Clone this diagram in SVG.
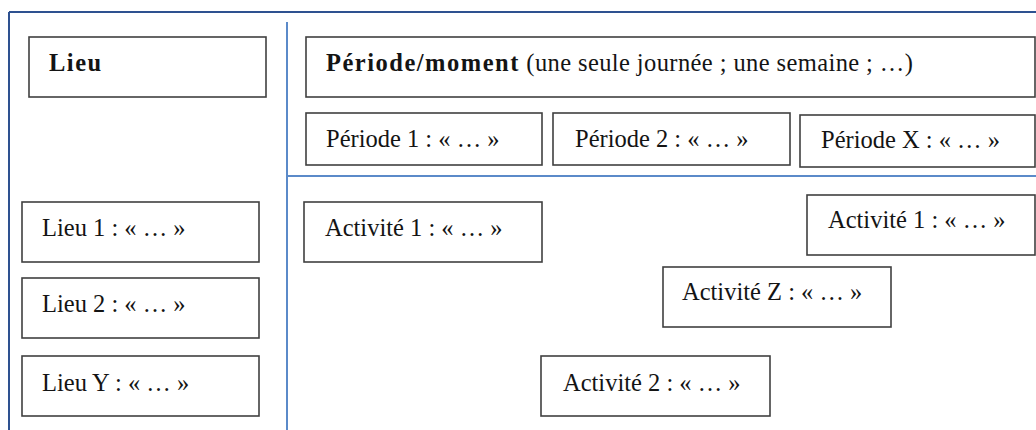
<svg xmlns="http://www.w3.org/2000/svg" width="1036" height="430" viewBox="0 0 1036 430">
<style>
.box{fill:#ffffff;stroke:#404040;stroke-width:1.6}
.t{font-family:"Liberation Serif","Times New Roman",serif;font-size:24.5px;fill:#141414}
.b{font-weight:bold;letter-spacing:1.5px}
.frame{stroke:#2E5190;stroke-width:2;fill:none}
.div{stroke:#5B8AC9;stroke-width:2;fill:none}
</style>
<rect width="1036" height="430" fill="#ffffff"/>
<g id="connectors">
<line class="frame" x1="9" y1="12" x2="1036" y2="12" stroke="#24416F"/>
<line class="frame" x1="9" y1="12" x2="9" y2="430"/>
<line class="div" x1="287" y1="22" x2="287" y2="430"/>
<line class="div" x1="287" y1="176" x2="1036" y2="176"/>
</g>
<g id="lieu"><rect class="box" x="29" y="37" width="237" height="60"/><text class="t b" x="49" y="71">Lieu</text></g>
<g id="periode-moment"><rect class="box" x="306" y="37" width="729" height="60" stroke-width="2"/><text class="t" x="326" y="71"><tspan class="b">Période/moment</tspan><tspan letter-spacing="0.4"> (une seule journée ; une semaine ; …)</tspan></text></g>
<g id="periode1"><rect class="box" x="306" y="113" width="236" height="52"/><text class="t" x="326" y="147">Période 1 : « … »</text></g>
<g id="periode2"><rect class="box" x="553" y="113" width="237" height="52"/><text class="t" x="575" y="147">Période 2 : « … »</text></g>
<g id="periodeX"><rect class="box" x="800" y="115" width="235" height="52"/><text class="t" x="821" y="148">Période X : « … »</text></g>
<g id="lieu1"><rect class="box" x="22" y="202" width="237" height="60"/><text class="t" x="42" y="236">Lieu 1 : « … »</text></g>
<g id="lieu2"><rect class="box" x="22" y="278" width="237" height="60"/><text class="t" x="42" y="312">Lieu 2 : « … »</text></g>
<g id="lieuY"><rect class="box" x="22" y="356" width="237" height="60"/><text class="t" x="42" y="391">Lieu Y : « … »</text></g>
<g id="activite1-left"><rect class="box" x="304" y="202" width="238" height="60"/><text class="t" x="325" y="236">Activité 1 : « … »</text></g>
<g id="activite1-right"><rect class="box" x="807" y="195" width="228" height="60"/><text class="t" x="828" y="228">Activité 1 : « … »</text></g>
<g id="activiteZ"><rect class="box" x="663" y="267" width="228" height="60"/><text class="t" x="682" y="300">Activité Z : « … »</text></g>
<g id="activite2"><rect class="box" x="541" y="356" width="229" height="60"/><text class="t" x="563" y="391">Activité 2 : « … »</text></g>
</svg>
